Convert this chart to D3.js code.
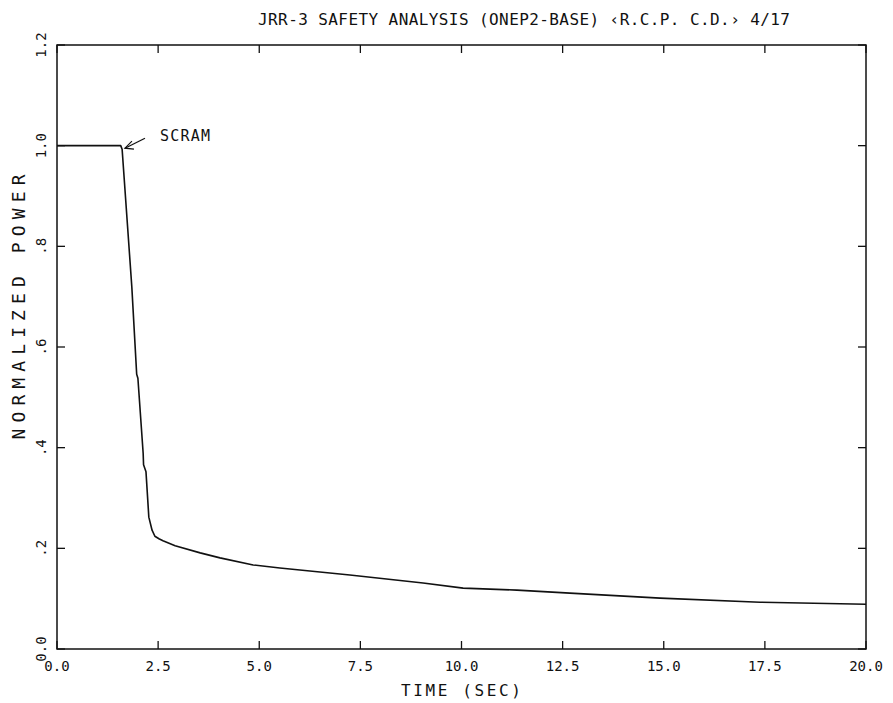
<!DOCTYPE html>
<html><head><meta charset="utf-8">
<script src="https://cdn.jsdelivr.net/npm/d3@7"></script>
<style>body{margin:0;background:#fff}svg{display:block}text{font-family:"DejaVu Sans Mono",monospace;fill:#111}</style>
</head><body>
<script>
const titleText = "JRR-3 SAFETY ANALYSIS (ONEP2-BASE) \u2039R.C.P. C.D.\u203A 4/17";
const xTitle = "TIME (SEC)";
const yTitle = "NORMALIZED POWER";
const xTicks = [0, 2.5, 5, 7.5, 10, 12.5, 15, 17.5, 20];
const xTickLabels = ["0.0","2.5","5.0","7.5","10.0","12.5","15.0","17.5","20.0"];
const yTicks = [0, 0.2, 0.4, 0.6, 0.8, 1.0, 1.2];
const yTickLabels = ["0.0",".2",".4",".6",".8","1.0","1.2"];
const timeSec = [0, 1.0, 1.575, 1.61, 1.85, 1.97, 2.0, 2.13, 2.14, 2.20, 2.27, 2.35, 2.42, 2.52, 2.62, 2.92, 3.54, 4.03, 4.85, 5.51, 7.24, 9.05, 10.04, 11.37, 12.68, 14.91, 17.38, 20.0];
const power   = [1.0, 1.0, 1.0, 0.993, 0.719, 0.546, 0.538, 0.389, 0.366, 0.352, 0.262, 0.236, 0.224, 0.219, 0.215, 0.205, 0.191, 0.181, 0.167, 0.161, 0.147, 0.131, 0.121, 0.117, 0.111, 0.101, 0.093, 0.089];
const annotation = {text: "SCRAM", t: 1.68, v: 0.995};

const W = 893, H = 703;
const L = 57, R = 866, T = 45, B = 649;
const svg = d3.select("body").append("svg").attr("width", W).attr("height", H);
const x = d3.scaleLinear().domain([0, 20]).range([L, R]);
const y = d3.scaleLinear().domain([0, 1.2]).range([B, T]);

// frame
svg.append("rect").attr("x", L).attr("y", T).attr("width", R - L).attr("height", B - T)
  .attr("fill", "none").attr("stroke", "#111").attr("stroke-width", 1.5);

const tl = 8;
const g = svg.append("g").attr("stroke", "#111").attr("stroke-width", 1.3);
xTicks.forEach(t => {
  g.append("line").attr("x1", x(t)).attr("x2", x(t)).attr("y1", B).attr("y2", B - tl);
  g.append("line").attr("x1", x(t)).attr("x2", x(t)).attr("y1", T).attr("y2", T + tl);
});
yTicks.forEach(v => {
  g.append("line").attr("x1", L).attr("x2", L + tl).attr("y1", y(v)).attr("y2", y(v));
  g.append("line").attr("x1", R).attr("x2", R - tl).attr("y1", y(v)).attr("y2", y(v));
});

// x tick labels
xTicks.forEach((t, i) => {
  svg.append("text").attr("x", x(t)).attr("y", 671).attr("text-anchor", "middle")
    .attr("font-size", 14).text(xTickLabels[i]);
});
// y tick labels rotated
yTicks.forEach((v, i) => {
  svg.append("text").attr("transform", `translate(46,${y(v)}) rotate(-90)`)
    .attr("text-anchor", "middle").attr("font-size", 14).text(yTickLabels[i]);
});

// titles
svg.append("text").attr("x", 524).attr("y", 25).attr("text-anchor", "middle")
  .attr("font-size", 16).attr("textLength", 532).attr("lengthAdjust", "spacing").text(titleText);
svg.append("text").attr("x", 461).attr("y", 696).attr("text-anchor", "middle")
  .attr("font-size", 16).attr("textLength", 120).attr("lengthAdjust", "spacing").text(xTitle);
svg.append("text").attr("transform", "translate(25,307) rotate(-90)").attr("text-anchor", "middle")
  .attr("font-size", 18).attr("textLength", 265).attr("lengthAdjust", "spacing").text(yTitle);

// data line
const line = d3.line().x((d, i) => x(timeSec[i])).y(d => y(d));
svg.append("path").datum(power).attr("d", line).attr("fill", "none")
  .attr("stroke", "#111").attr("stroke-width", 1.6).attr("stroke-linejoin", "round");

// annotation
const ax = x(annotation.t), ay = y(annotation.v);
svg.append("line").attr("x1", ax + 20).attr("y1", ay - 10).attr("x2", ax).attr("y2", ay)
  .attr("stroke", "#111").attr("stroke-width", 1.2);
svg.append("path").attr("d", `M${ax + 7},${ay - 7} L${ax},${ay} L${ax + 9},${ay + 1}`)
  .attr("fill", "none").attr("stroke", "#111").attr("stroke-width", 1.2);
svg.append("text").attr("x", ax + 35).attr("y", ay - 7).attr("font-size", 15)
  .attr("textLength", 50).attr("lengthAdjust", "spacing").text(annotation.text);
</script>
</body></html>
